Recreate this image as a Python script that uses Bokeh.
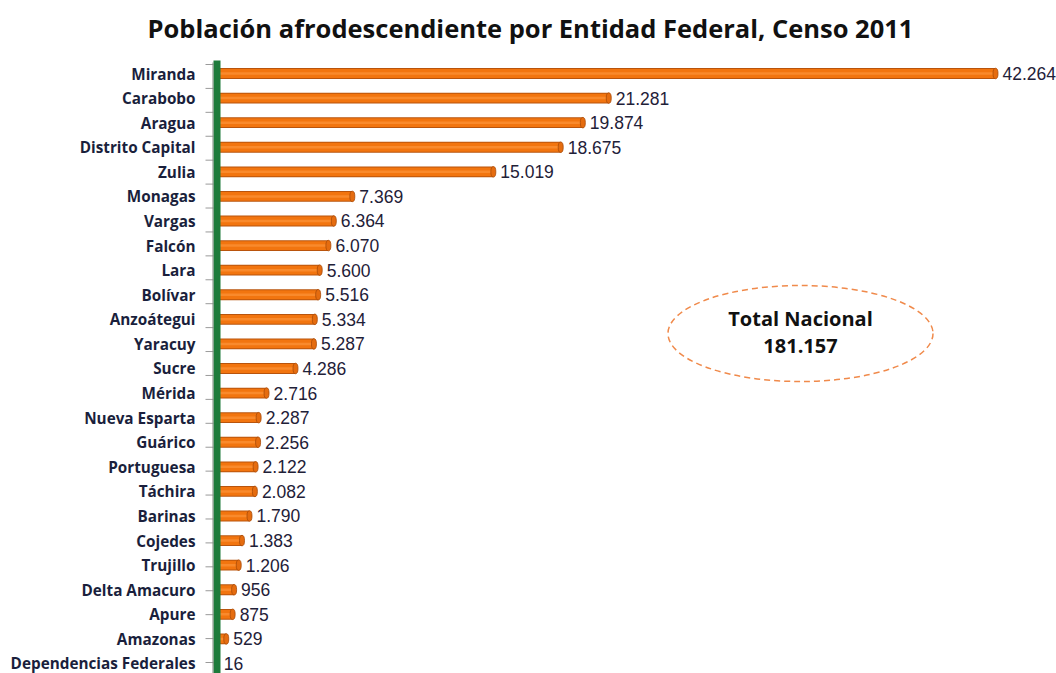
from bokeh.plotting import figure
from bokeh.models import Range1d, ColumnDataSource
from bokeh.core.properties import value
from bokeh.embed import file_html
from bokeh.resources import INLINE

entidades = ["Miranda", "Carabobo", "Aragua", "Distrito Capital", "Zulia", "Monagas",
             "Vargas", "Falcón", "Lara", "Bolívar", "Anzoátegui", "Yaracuy", "Sucre",
             "Mérida", "Nueva Esparta", "Guárico", "Portuguesa", "Táchira", "Barinas",
             "Cojedes", "Trujillo", "Delta Amacuro", "Apure", "Amazonas",
             "Dependencias Federales"]
poblacion = [42264, 21281, 19874, 18675, 15019, 7369, 6364, 6070, 5600, 5516, 5334,
             5287, 4286, 2716, 2287, 2256, 2122, 2082, 1790, 1383, 1206, 956, 875, 529, 16]
titulo = "Población afrodescendiente por Entidad Federal, Censo 2011"
total_label = "Total Nacional"
total_value = "181.157"

n = len(entidades)
ys = [n - 1 - i for i in range(n)]
fmt = [f"{v:,}".replace(",", ".") for v in poblacion]
src = ColumnDataSource(dict(y=ys, v=poblacion, t=fmt, name=entidades))

W, H = 1056, 673
X0 = 216          # pixel of value zero
SX = 0.018432     # pixels per person
RY = 24.583       # pixels per row
TOPROW = 73       # pixel of first row centre


def dx(px):
    return (px - X0) / SX


def dy(py):
    return (n - 1) - (py - TOPROW) / RY


p = figure(width=W, height=H, output_backend="svg", toolbar_location=None,
           x_range=Range1d(dx(0), dx(W)), y_range=Range1d(dy(H), dy(0)),
           min_border=0)
p.outline_line_color = None
p.xgrid.visible = False
p.ygrid.visible = False
p.xaxis.visible = False
p.yaxis.visible = False

# axis ticks
tick_y = [dy(64 + k * (662 - 64) / n) for k in range(n + 1)]
p.segment(x0=[dx(205)] * len(tick_y), x1=[dx(213)] * len(tick_y), y0=tick_y, y1=tick_y,
          line_color="#9a9a9a", line_width=1)

# bars (3D-ish cylinder look)
p.hbar(y="y", right="v", left=0, height=0.44, source=src,
       fill_color="#b9540c", line_color=None)
p.hbar(y="y", right="v", left=0, height=0.36, source=src,
       fill_color="#f2750f", line_color=None)
p.hbar(y="y", right="v", left=0, height=0.1, source=src,
       fill_color="#f98a2c", line_color=None)
p.ellipse(x="v", y="y", width=5, height=10.5, width_units="screen",
          height_units="screen", source=src, fill_color="#e56c0f",
          line_color="#a84a08", line_width=0.8)

# green axis bar
p.segment(x0=[dx(216.5)], x1=[dx(216.5)], y0=[dy(H)], y1=[dy(60)],
          line_color="#1d7b3b", line_width=7)
p.segment(x0=[dx(212.5)], x1=[dx(212.5)], y0=[dy(H)], y1=[dy(62)],
          line_color="#7a8a7e", line_width=1)

# value labels
p.text(x="v", y="y", text="t", source=src, x_offset=7,
       text_baseline="middle", text_align="left",
       text_font=value("Liberation Sans"), text_font_size="17.5px",
       text_color="#1f2138")

# category labels
p.text(x=0, y="y", text="name", source=src, x_offset=-21,
       text_baseline="middle", text_align="right",
       text_font=value("Open Sans"), text_font_style="bold",
       text_font_size="15.3px", text_color="#1a1f3c")

# title
p.text(x=[dx(530)], y=[dy(27)], text=[titulo], text_align="center",
       text_baseline="middle", text_font=value("Open Sans"),
       text_font_style="bold", text_font_size="25.5px", text_color="#111111")

# total ellipse
p.ellipse(x=[dx(800)], y=[dy(333)], width=[265], height=[96],
          width_units="screen", height_units="screen",
          fill_color=None, line_color="#f08a4b", line_width=1.5,
          line_dash="6 4")
p.text(x=[dx(800)], y=[dy(318)], text=[total_label], text_align="center",
       text_baseline="middle", text_font=value("Open Sans"),
       text_font_style="bold", text_font_size="20px", text_color="#111111")
p.text(x=[dx(800)], y=[dy(345)], text=[total_value], text_align="center",
       text_baseline="middle", text_font=value("Open Sans"),
       text_font_style="bold", text_font_size="20px", text_color="#111111")

open("out.html", "w").write(file_html(p, INLINE))
